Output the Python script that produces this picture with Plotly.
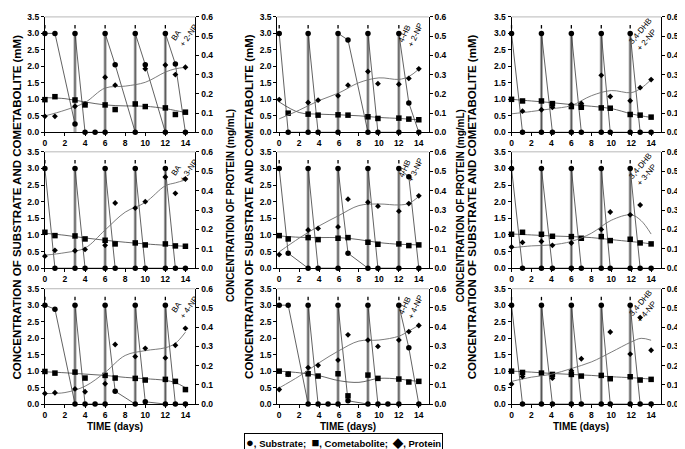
import plotly.graph_objects as go

# ---------------- DATA ----------------
PANEL_LABELS = ["BA<br>+ 2-NP", "4-HB<br>+ 2-NP", "3,4-DHB<br>+ 2-NP",
                "BA<br>+ 3-NP", "4-HB<br>+ 3-NP", "3,4-DHB<br>+ 3-NP",
                "BA<br>+ 4-NP", "4-HB<br>+ 4-NP", "3,4-DHB<br>+ 4-NP"]

X_TICKS = [0, 2, 4, 6, 8, 10, 12, 14]
Y_LEFT_TICKS = [0.0, 0.5, 1.0, 1.5, 2.0, 2.5, 3.0, 3.5]
Y_RIGHT_TICKS = [0.0, 0.1, 0.2, 0.3, 0.4, 0.5, 0.6]

# sampling days per column
COL1_DAYS = [0, 1, 3, 4, 6, 7, 9, 10, 12, 13, 14]
COL2_DAYS = [0, 0.9, 2.9, 3.9, 5.9, 6.9, 8.9, 9.9, 12, 13, 14]
COL3_DAYS = [0, 1.1, 3, 4.1, 6, 7, 9, 9.9, 11.9, 12.9, 14]

# feeding days per column
COL1_FEED = [0, 3, 6, 9, 12]
COL2_FEED = [0, 2.9, 5.9, 8.9, 12]
COL3_FEED = [0, 3, 6, 9, 11.9]
FEED_MARK = 3.2

# smooth fitted curves: knot days
FIT_DAYS = [0, 2, 4, 6, 8, 10, 12, 13, 14]

# ---- substrate (mM), with feeding jumps ----
p1_sub_x = [0, 1, 3, 3, 4, 5, 6, 6, 7, 9, 9, 10, 12, 12, 13, 14]
p1_sub_y = [3, 3, 0.25, 3, 0, 0, 0, 3, 2.05, 0, 3, 2.05, 0, 3, 2.07, 0]
p2_sub_x = [0, 0.9, 2.9, 2.9, 3.9, 5.9, 5.9, 6.9, 8.9, 8.9, 9.9, 12, 12, 13, 14]
p2_sub_y = [3, 0, 0, 3, 0, 0, 3, 2.8, 0, 3, 0, 0, 3, 0.89, 0]
p3_sub_x = [0, 1.1, 3, 3, 4.1, 6, 6, 7, 9, 9, 9.9, 11.9, 11.9, 12.9, 14]
p3_sub_y = [3, 0, 0, 3, 0, 0, 3, 0, 0, 3, 0, 0, 3, 0, 0]
p4_sub_x = [0, 1, 3, 3, 4, 6, 6, 7, 9, 9, 10, 12, 12, 13, 14]
p4_sub_y = [3, 0, 0, 3, 0, 0, 3, 0, 0, 3, 0, 0, 3, 0, 0]
p5_sub_x = [0, 0.9, 2.9, 2.9, 3.9, 5.9, 5.9, 6.9, 8.9, 8.9, 9.9, 12, 12, 13, 14]
p5_sub_y = [3, 0.45, 0, 3, 0, 0, 3, 0.45, 0, 3, 0, 0, 3, 2.75, 0]
p6_sub_x = [0, 1.1, 3, 3, 4.1, 6, 6, 7, 9, 9, 9.9, 11.9, 11.9, 12.9, 14]
p6_sub_y = [3, 0, 0, 3, 0, 0, 3, 0, 0, 3, 0, 0, 3, 0, 0]
p7_sub_x = [0, 1, 3, 3, 4, 5, 6, 6, 7, 9, 9, 10, 12, 12, 13, 14]
p7_sub_y = [3, 2.88, 0, 3, 0, 0, 0, 3, 0.39, 0, 3, 0.07, 0, 3, 0, 0]
p8_sub_x = [0, 0.9, 2.9, 2.9, 3.9, 4.9, 5.9, 5.9, 6.9, 8.9, 8.9, 9.9, 10.9, 12, 12, 13, 14]
p8_sub_y = [3, 3, 0, 3, 0, 0, 0, 3, 0.1, 0, 3, 0, 0, 0, 3, 1.71, 0]
p9_sub_x = [0, 1.1, 3, 3, 4.1, 6, 6, 7, 9, 9, 9.9, 11.9, 11.9, 12.9, 14]
p9_sub_y = [3, 0, 0, 3, 0, 0, 3, 0, 0, 3, 0, 0, 3, 0, 0]

# ---- cometabolite points (mM) ----
p1_com = [0.99, 1.08, 0.98, 0.83, 0.83, 0.69, 0.86, 0.78, 0.74, 0.54, 0.61]
p2_com = [None, 0.58, 0.55, 0.52, 0.53, 0.52, 0.47, 0.42, 0.43, 0.40, 0.38]
p3_com = [1.0, 0.95, 0.95, 0.87, 0.78, 0.76, 0.74, 0.73, 0.54, 0.52, 0.46]
p4_com = [1.08, 0.98, 0.97, 0.88, 0.84, 0.73, 0.76, 0.70, 0.73, 0.67, 0.66]
p5_com = [0.98, 0.88, 0.92, 0.86, 0.90, 0.92, 0.78, 0.72, 0.73, 0.68, 0.70]
p6_com = [1.02, 1.08, 1.02, 0.96, 0.95, 0.90, 0.95, 0.83, 0.87, 0.76, 0.73]
p7_com = [0.99, 0.94, 0.97, 0.79, 0.87, 0.79, 0.78, 0.73, 0.75, 0.69, 0.44]
p8_com = [1.0, 0.91, 0.92, 0.85, 0.92, 0.25, 0.88, 0.78, 0.76, 0.67, 0.69]
p9_com = [1.0, 0.96, 0.94, 0.90, 0.90, 0.85, 0.87, 0.77, 0.83, 0.73, 0.75]

# ---- cometabolite fitted curves (mM) at FIT_DAYS ----
p1_com_fit = [1.05, 1.02, 0.92, 0.83, 0.80, 0.79, 0.72, 0.66, 0.60]
p2_com_fit = [0.92, 0.60, 0.55, 0.53, 0.50, 0.45, 0.42, 0.40, 0.38]
p3_com_fit = [1.0, 0.95, 0.90, 0.84, 0.79, 0.72, 0.56, 0.50, 0.45]
p4_com_fit = [1.05, 0.99, 0.91, 0.84, 0.78, 0.73, 0.69, 0.675, 0.66]
p5_com_fit = [0.97, 0.93, 0.92, 0.92, 0.86, 0.77, 0.72, 0.71, 0.70]
p6_com_fit = [1.03, 1.0, 0.97, 0.95, 0.92, 0.86, 0.80, 0.77, 0.73]
p7_com_fit = [0.98, 0.95, 0.91, 0.87, 0.81, 0.77, 0.72, 0.65, 0.50]
p8_com_fit = [1.0, 0.95, 0.86, 0.71, 0.66, 0.78, 0.76, 0.72, 0.69]
p9_com_fit = [1.0, 0.97, 0.93, 0.90, 0.87, 0.83, 0.80, 0.78, 0.76]

# ---- protein points (mg/mL) ----
p1_pro = [0.083, 0.083, 0.135, 0.147, 0.286, 0.245, None, 0.33, 0.35, 0.30, 0.338]
p2_pro = [0.17, None, 0.155, 0.167, 0.19, 0.245, 0.316, 0.253, 0.25, 0.28, 0.33]
p3_pro = [None, 0.11, 0.117, 0.13, 0.144, 0.15, 0.296, 0.186, 0.164, 0.232, 0.274]
p4_pro = [0.062, 0.092, 0.09, 0.097, 0.118, 0.336, 0.31, 0.343, 0.47, 0.386, 0.46]
p5_pro = [0.07, None, 0.197, 0.205, 0.213, 0.356, 0.34, 0.32, 0.294, 0.333, 0.373]
p6_pro = [0.109, 0.133, 0.138, 0.118, 0.13, None, 0.20, 0.29, 0.275, 0.326, None]
p7_pro = [0.055, 0.059, 0.079, 0.064, 0.106, 0.31, 0.247, 0.29, 0.24, 0.306, 0.394]
p8_pro = [0.076, 0.155, 0.19, 0.202, 0.229, 0.36, 0.333, 0.30, 0.333, 0.377, 0.409]
p9_pro = [0.104, 0.143, None, 0.135, 0.173, 0.236, None, 0.375, 0.26, 0.45, 0.28]

# ---- protein fitted curves (mg/mL) at FIT_DAYS ----
p1_pro_fit = [0.085, 0.115, 0.155, 0.23, 0.24, 0.26, 0.313, 0.33, 0.338]
p2_pro_fit = [0.07, 0.115, 0.165, 0.205, 0.258, 0.283, 0.275, 0.29, 0.328]
p3_pro_fit = [0.096, 0.108, 0.122, 0.139, 0.19, 0.217, 0.206, 0.23, 0.274]
p4_pro_fit = [0.067, 0.08, 0.104, 0.197, 0.289, 0.339, 0.425, 0.44, 0.455]
p5_pro_fit = [0.084, 0.155, 0.218, 0.272, 0.323, 0.331, 0.326, 0.334, 0.37]
p6_pro_fit = [0.105, 0.115, 0.12, 0.138, 0.18, 0.247, 0.275, 0.245, 0.176]
p7_pro_fit = [0.055, 0.06, 0.093, 0.165, 0.253, 0.278, 0.293, 0.316, 0.374]
p8_pro_fit = [0.084, 0.145, 0.215, 0.278, 0.328, 0.333, 0.353, 0.38, 0.41]
p9_pro_fit = [0.118, 0.14, 0.155, 0.185, 0.219, 0.27, 0.323, 0.342, 0.332]

# ---------------- LAYOUT CONSTANTS ----------------
W, H = 685, 449
COL_PX = [(35, 186), (268, 420), (503, 653)]
ROW_PX = [(4, 122), (142, 261), (282, 400)]
COL_XRANGE = [(0, 15), (-0.2, 15), (0, 15)]
FONT = "Arial, Liberation Sans, sans-serif"

panels = [
    (p1_sub_x, p1_sub_y, p1_com, p1_com_fit, p1_pro, p1_pro_fit),
    (p2_sub_x, p2_sub_y, p2_com, p2_com_fit, p2_pro, p2_pro_fit),
    (p3_sub_x, p3_sub_y, p3_com, p3_com_fit, p3_pro, p3_pro_fit),
    (p4_sub_x, p4_sub_y, p4_com, p4_com_fit, p4_pro, p4_pro_fit),
    (p5_sub_x, p5_sub_y, p5_com, p5_com_fit, p5_pro, p5_pro_fit),
    (p6_sub_x, p6_sub_y, p6_com, p6_com_fit, p6_pro, p6_pro_fit),
    (p7_sub_x, p7_sub_y, p7_com, p7_com_fit, p7_pro, p7_pro_fit),
    (p8_sub_x, p8_sub_y, p8_com, p8_com_fit, p8_pro, p8_pro_fit),
    (p9_sub_x, p9_sub_y, p9_com, p9_com_fit, p9_pro, p9_pro_fit),
]
col_days = [COL1_DAYS, COL2_DAYS, COL3_DAYS]
col_feed = [COL1_FEED, COL2_FEED, COL3_FEED]

fig = go.Figure()
layout = dict(
    width=W, height=H, margin=dict(l=0, r=0, t=0, b=0),
    paper_bgcolor="white", plot_bgcolor="white", showlegend=False,
    font=dict(family=FONT, color="black"),
)
shapes = []
annotations = []

tickfont = dict(family=FONT, size=8.5, color="black", weight="bold")

def aname(prefix, n):
    return prefix if n == 1 else f"{prefix}{n}"

def aref(prefix, n):
    return prefix if n == 1 else f"{prefix}{n}"

for i, (sx, sy, com, comfit, pro, profit) in enumerate(panels):
    r, c = divmod(i, 3)
    xn = i + 1
    yl = 2 * i + 1
    yr = 2 * i + 2
    x0p, x1p = COL_PX[c]
    yt, yb = ROW_PX[r]
    xd = [x0p / W, x1p / W]
    yd = [1 - yb / H, 1 - yt / H]
    xr, ylr, yrr = aref("x", xn), aref("y", yl), aref("y", yr)

    layout[aname("xaxis", xn)] = dict(
        domain=xd, anchor=ylr, range=list(COL_XRANGE[c]), tickvals=X_TICKS,
        showline=True, linecolor="black", linewidth=1, ticks="outside",
        ticklen=3, tickcolor="black", showgrid=False, zeroline=False,
        tickfont=tickfont, fixedrange=True)
    layout[aname("yaxis", yl)] = dict(
        domain=yd, anchor=xr, range=[0, 3.5], tickvals=Y_LEFT_TICKS,
        tickformat=".1f", showline=True, linecolor="black", linewidth=1,
        ticks="outside", ticklen=3, tickcolor="black", showgrid=False,
        zeroline=False, tickfont=tickfont, fixedrange=True)
    layout[aname("yaxis", yr)] = dict(
        overlaying=ylr, side="right", anchor=xr, range=[0, 0.6],
        tickvals=Y_RIGHT_TICKS, tickformat=".1f", showline=True,
        linecolor="black", linewidth=1, ticks="outside", ticklen=3,
        tickcolor="black", showgrid=False, zeroline=False,
        tickfont=tickfont, fixedrange=True)

    # faint top border
    shapes.append(dict(type="line", xref="paper", yref="paper",
                       x0=xd[0], x1=xd[1], y0=yd[1], y1=yd[1],
                       line=dict(color="#b8b8b8", width=1)))
    # feeding vertical bands
    for fd in col_feed[c]:
        if fd == 0:
            continue
        shapes.append(dict(type="line", xref=xr, yref=ylr, x0=fd, x1=fd,
                           y0=0, y1=3.0, layer="below",
                           line=dict(color="#a8a8a8", width=3)))

    # cometabolite fit
    fig.add_trace(go.Scatter(x=FIT_DAYS, y=comfit, xaxis=xr, yaxis=ylr,
                             mode="lines", line=dict(color="#555555", width=0.9,
                                                     shape="spline", smoothing=1.0),
                             hoverinfo="skip"))
    # substrate
    fig.add_trace(go.Scatter(x=sx, y=sy, xaxis=xr, yaxis=ylr, mode="lines+markers",
                             line=dict(color="#3a3a3a", width=0.8),
                             marker=dict(symbol="circle", size=5.5, color="black"),
                             cliponaxis=False, name="Substrate"))
    # cometabolite points
    fig.add_trace(go.Scatter(x=col_days[c], y=com, xaxis=xr, yaxis=ylr, mode="markers",
                             marker=dict(symbol="square", size=5.5, color="black"),
                             cliponaxis=False, name="Cometabolite"))
    # feed marks
    fig.add_trace(go.Scatter(x=col_feed[c], y=[FEED_MARK] * len(col_feed[c]),
                             xaxis=xr, yaxis=ylr, mode="markers",
                             marker=dict(symbol="line-ns", size=2.5,
                                         line=dict(color="black", width=1.3)),
                             cliponaxis=False, hoverinfo="skip"))
    # protein fit
    fig.add_trace(go.Scatter(x=FIT_DAYS, y=profit, xaxis=xr, yaxis=yrr,
                             mode="lines", line=dict(color="#6e6e6e", width=0.9,
                                                     shape="spline", smoothing=1.0),
                             hoverinfo="skip"))
    # protein points
    fig.add_trace(go.Scatter(x=col_days[c], y=pro, xaxis=xr, yaxis=yrr, mode="markers",
                             marker=dict(symbol="diamond", size=4.5, color="black"),
                             cliponaxis=False, name="Protein"))

# panel labels (rotated)
LABEL_POS = [(175, 20, -55), (402, 20, -65), (636, 22, -50)]
for i, lab in enumerate(PANEL_LABELS):
    r, c = divmod(i, 3)
    px, py, ang = LABEL_POS[c]
    py = py + ROW_PX[r][0] - ROW_PX[0][0]
    annotations.append(dict(text=lab, x=px / W, y=1 - py / H, xref="paper",
                            yref="paper", showarrow=False, textangle=ang,
                            font=dict(family=FONT, size=8, color="black"),
                            xanchor="center", yanchor="middle", align="left"))

# axis titles
LEFT_TITLE = "CONCENTRATION OF SUBSTRATE AND COMETABOLITE (mM)"
RIGHT_TITLE = "CONCENTRATION OF PROTEIN (mg/mL)"
for xl in [7, 239, 463]:
    annotations.append(dict(text=LEFT_TITLE, x=xl / W, y=1 - 198 / H, xref="paper",
                            yref="paper", showarrow=False, textangle=-90,
                            font=dict(family=FONT, size=11.5, color="black", weight="bold"),
                            xanchor="center", yanchor="middle"))
for xr_ in [221, 452, 675]:
    annotations.append(dict(text=RIGHT_TITLE, x=xr_ / W, y=1 - 197 / H, xref="paper",
                            yref="paper", showarrow=False, textangle=-90,
                            font=dict(family=FONT, size=10, color="black", weight="bold"),
                            xanchor="center", yanchor="middle"))
for c in range(3):
    cx = (COL_PX[c][0] + COL_PX[c][1]) / 2 - 5
    annotations.append(dict(text="TIME (days)", x=cx / W, y=1 - 423 / H, xref="paper",
                            yref="paper", showarrow=False,
                            font=dict(family=FONT, size=10, color="black", weight="bold"),
                            xanchor="center", yanchor="middle"))

# legend box
SYM = '<span style="font-size:13px">%s</span>'
legend_text = (SYM % "●") + ", Substrate;  " + (SYM % "■") + ", Cometabolite;  " + \
              (SYM % "◆") + ", Protein"
annotations.append(dict(text=legend_text,
                        x=334 / W, y=1 - 439.5 / H, xref="paper", yref="paper",
                        showarrow=False, bordercolor="black", borderwidth=1,
                        borderpad=1, bgcolor="white",
                        font=dict(family=FONT, size=9.5, color="black", weight="bold"),
                        xanchor="center", yanchor="middle"))

layout["shapes"] = shapes
layout["annotations"] = annotations
fig.update_layout(**layout)
fig.write_html("out.html")
